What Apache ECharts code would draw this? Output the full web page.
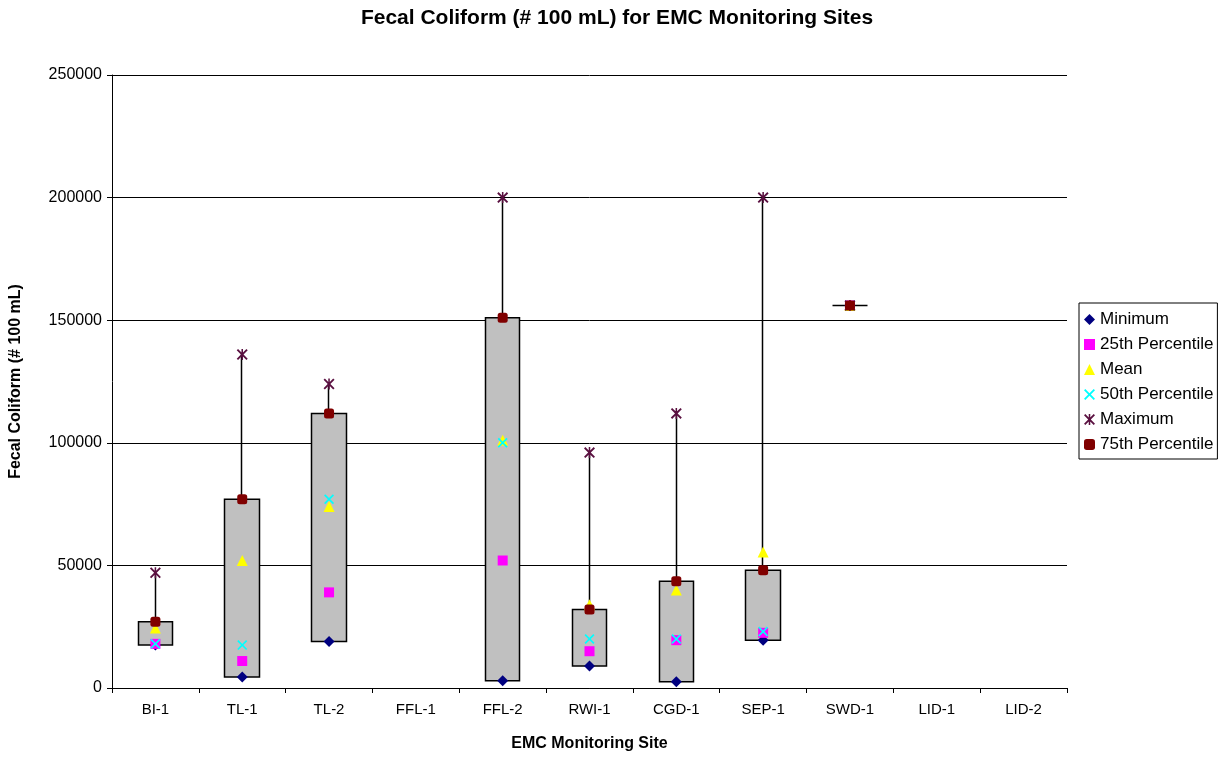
<!DOCTYPE html>
<html>
<head>
<meta charset="utf-8">
<title>Fecal Coliform for EMC Monitoring Sites</title>
<script src="https://cdn.jsdelivr.net/npm/echarts@6/dist/echarts.min.js"></script>
<style>
  html, body { margin: 0; padding: 0; background: #fff; }
  #chart { width: 1230px; height: 757px; }
</style>
</head>
<body>
<div id="chart"></div>
<script>
// sites along the x axis
const sites = ["BI-1", "TL-1", "TL-2", "FFL-1", "FFL-2", "RWI-1", "CGD-1", "SEP-1", "SWD-1", "LID-1", "LID-2"];

// statistics per site (# / 100 mL), null where no data
const minimum = [17500, 4500, 19000, null, 3000, 9000, 2500, 19500, 156000, null, null];
const p25 = [18000, 11000, 39000, null, 52000, 15000, 19500, 22500, 156000, null, null];
const mean = [24500, 52000, 74000, null, 101000, 34000, 40000, 55500, 156000, null, null];
const p50 = [18000, 17500, 77000, null, 100000, 20000, 20000, 23000, 156000, null, null];
const maximum = [47000, 136000, 124000, null, 200000, 96000, 112000, 200000, 156000, null, null];
const p75 = [27000, 77000, 112000, null, 151000, 32000, 43500, 48000, 156000, null, null];

const yTicks = [0, 50000, 100000, 150000, 200000, 250000];

// box from minimum to 75th percentile, whisker up to maximum
const boxData = sites.map((s, i) =>
  minimum[i] == null ? "-" : [minimum[i], p75[i], minimum[i], maximum[i]]
);

const xPath = "path://M0,1.2 L1.2,0 L5,3.8 L8.8,0 L10,1.2 L6.2,5 L10,8.8 L8.8,10 L5,6.2 L1.2,10 L0,8.8 L3.8,5 Z";
const starPath = "path://M0,1.2 L1.2,0 L5,3.8 L8.8,0 L10,1.2 L6.2,5 L10,8.8 L8.8,10 L5,6.2 L1.2,10 L0,8.8 L3.8,5 Z M4.3,0 L5.7,0 L5.7,10 L4.3,10 Z";

const font = "'Liberation Sans', Arial, sans-serif";

function markers(name, data, symbol, color, size) {
  return {
    name: name,
    type: "scatter",
    data: data.map((v, i) => (v == null ? [i, "-"] : [i, v])),
    symbol: symbol,
    symbolSize: size,
    itemStyle: { color: color, opacity: 1 },
    z: 5
  };
}

const chart = echarts.init(document.getElementById("chart"));

const option = {
  backgroundColor: "#ffffff",
  animation: false,
  textStyle: { fontFamily: font },
  title: {
    text: "Fecal Coliform (# 100 mL) for EMC Monitoring Sites",
    left: 612,
    textAlign: "center",
    top: 3,
    textStyle: { fontFamily: font, fontSize: 21, fontWeight: "bold", color: "#000" }
  },
  legend: {
    orient: "vertical",
    left: 1079,
    top: 303,
    padding: [8, 4, 6, 5],
    itemGap: 8,
    itemWidth: 11,
    itemHeight: 11,
    borderColor: "#000",
    borderWidth: 1,
    textStyle: { fontFamily: font, fontSize: 17, color: "#000" },
    data: [
      { name: "Minimum", icon: "diamond" },
      { name: "25th Percentile", icon: "rect" },
      { name: "Mean", icon: "triangle" },
      { name: "50th Percentile", icon: xPath },
      { name: "Maximum", icon: starPath },
      { name: "75th Percentile", icon: "roundRect" }
    ]
  },
  grid: { left: 110, right: 163, top: 75, bottom: 68 },
  xAxis: {
    type: "category",
    data: sites,
    boundaryGap: true,
    name: "EMC Monitoring Site",
    nameLocation: "middle",
    nameGap: 48,
    nameTextStyle: { fontFamily: font, fontSize: 16, fontWeight: "bold", color: "#000" },
    axisLine: { lineStyle: { color: "#000", width: 1 } },
    axisTick: { show: true, alignWithLabel: false, length: 5, lineStyle: { color: "#000" } },
    axisLabel: { fontFamily: font, fontSize: 15, color: "#000", margin: 14 },
    splitLine: { show: false }
  },
  yAxis: {
    type: "value",
    min: 0,
    max: yTicks[yTicks.length - 1],
    interval: yTicks[1] - yTicks[0],
    name: "Fecal Coliform (# 100 mL)",
    nameLocation: "middle",
    nameGap: 88,
    nameTextStyle: { fontFamily: font, fontSize: 16, fontWeight: "bold", color: "#000" },
    axisLine: { show: true, lineStyle: { color: "#000", width: 1 } },
    axisTick: { show: true, length: 5, lineStyle: { color: "#000" } },
    axisLabel: { fontFamily: font, fontSize: 16, color: "#000", margin: 10, formatter: (v) => String(v) },
    splitLine: { show: true, lineStyle: { color: "#000", width: 1 } }
  },
  series: [
    {
      name: "range",
      type: "candlestick",
      data: boxData,
      barWidth: 35,
      itemStyle: {
        color: "#c0c0c0",
        color0: "#c0c0c0",
        borderColor: "#000",
        borderColor0: "#000",
        borderWidth: 1.5
      },
      z: 2
    },
    markers("Minimum", minimum, "diamond", "#000080", 11),
    markers("25th Percentile", p25, "rect", "#ff00ff", 10),
    markers("Mean", mean, "triangle", "#ffff00", 11),
    markers("50th Percentile", p50, xPath, "#00ffff", 10),
    markers("Maximum", maximum, starPath, "#5a1040", 11),
    markers("75th Percentile", p75, "roundRect", "#800000", 10)
  ]
};

option && chart.setOption(option);
</script>
</body>
</html>
